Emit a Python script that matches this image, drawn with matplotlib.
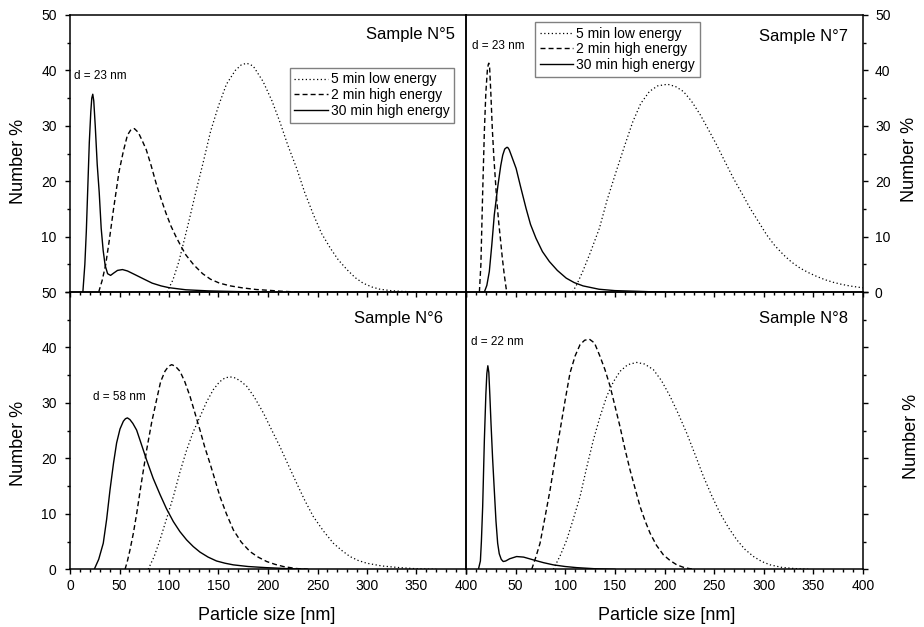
import matplotlib
matplotlib.use("Agg")
import matplotlib.pyplot as plt
from matplotlib.ticker import MultipleLocator, FuncFormatter

plt.rcParams['font.family'] = ['Liberation Sans', 'DejaVu Sans']

# ---- series names --------------------------------------------------------
series_labels = ["5 min low energy", "2 min high energy", "30 min high energy"]

# ---- Sample N°5 ----------------------------------------------------------
s5_low_x = [98, 104, 110, 120, 127, 134, 142, 150, 158, 167, 173, 178.5, 185, 195, 204, 212,
            220, 229, 237, 246, 254, 263, 271, 280, 288, 296, 305, 313, 324, 336, 350, 365]
s5_low_y = [0, 2.2, 5.5, 12.7, 18.0, 23.0, 29.0, 33.6, 37.5, 40.0, 41.0, 41.3, 40.8, 38.0, 34.5, 30.7,
            26.5, 22.3, 18.0, 13.9, 10.6, 7.9, 5.8, 4.0, 2.6, 1.6, 0.9, 0.5, 0.25, 0.1, 0.03, 0]
s5_high2_x = [29, 32.5, 36, 39.5, 44, 49.5, 54, 58, 61.5, 65, 69, 73, 77, 82, 87, 92, 97, 102,
              107, 112, 117, 125, 134, 142, 151, 162, 174, 188, 201, 215, 230]
s5_high2_y = [0, 2.1, 4.9, 9.1, 15, 21.7, 25.5, 28.3, 29.3, 29.5, 28.8, 27.3, 25.7, 22.8, 19.6, 16.8,
              14.2, 11.9, 10.0, 8.3, 6.7, 4.9, 3.3, 2.3, 1.6, 1.1, 0.75, 0.45, 0.3, 0.12, 0]
s5_high30_x = [13, 15, 16.5, 18, 19.5, 21, 22, 23, 24, 25.5, 27.5, 29.5, 31.5, 33.5, 35.5, 38, 41,
               44, 48, 53, 58, 66, 75, 83, 92, 100, 117, 140, 170, 200]
s5_high30_y = [0, 5, 11, 19, 27, 32.5, 35, 35.7, 34.5, 30, 23, 18, 11.5, 7.5, 4.8, 3.3, 3.0,
               3.4, 3.9, 4.05, 3.8, 3.1, 2.3, 1.6, 1.1, 0.78, 0.4, 0.2, 0.07, 0]

# ---- Sample N°7 ----------------------------------------------------------
s7_low_x = [107.5, 112, 117.6, 125, 134.4, 142, 151.2, 160, 168, 176, 184.8, 193, 203, 211, 219,
            227, 236, 244, 252.7, 261, 269.5, 278, 286.3, 295, 303, 311, 320, 328, 336.7, 345,
            353.5, 362, 370, 378, 387, 400]
s7_low_y = [0, 1.5, 3.7, 7.0, 11.5, 16.5, 21.7, 26.5, 30.7, 34.0, 36.2, 37.2, 37.5, 37.1, 36.2,
            34.5, 32.0, 29.4, 26.5, 23.5, 20.5, 17.8, 15.1, 12.6, 10.3, 8.4, 6.7, 5.4, 4.3, 3.5,
            2.8, 2.2, 1.75, 1.4, 1.08, 0.75]
s7_high2_x = [13.5, 15, 16.8, 18.5, 20, 21.5, 22.5, 23, 23.8, 25, 26.5, 28, 29.5, 31, 33, 35,
              36.5, 38.5, 40.5, 42]
s7_high2_y = [0, 5, 18, 29, 36, 40, 41.1, 41.3, 40.5, 36, 29.5, 24.5, 20.5, 16.5, 12.5, 9,
              6.3, 3.2, 0.6, 0]
s7_high30_x = [18.5, 21, 23.5, 26, 28.5, 32, 35, 37, 39, 41, 42, 43.5, 46, 50.5, 55, 60.5, 65,
               70.5, 77, 84, 92, 101, 109, 118, 134, 150, 168, 185, 200]
s7_high30_y = [0, 1.2, 3.7, 8.5, 13.9, 19.0, 22.8, 24.7, 25.8, 26.1, 26.1, 25.7, 24.5, 22.3, 19.0,
               15.1, 12.2, 9.7, 7.3, 5.5, 3.9, 2.5, 1.7, 1.1, 0.5, 0.25, 0.15, 0.05, 0]

# ---- Sample N°6 ----------------------------------------------------------
s6_low_x = [79, 85, 90.9, 97.5, 104.4, 111, 117.8, 124.5, 131.3, 138, 144.8, 151, 156.5, 161.6,
            167, 172.5, 178.5, 186, 195.3, 203.5, 212.1, 220.5, 229, 237.5, 245.8, 256, 266,
            274.5, 282.8, 291, 299.7, 315, 333, 350, 370]
s6_low_y = [0, 2.3, 5.3, 9.1, 13.1, 17.5, 21.5, 24.8, 27.5, 30.2, 32.4, 33.8, 34.5, 34.7,
            34.5, 33.9, 33.0, 31.1, 28.2, 25.2, 22.1, 18.8, 15.5, 12.3, 9.5, 6.9, 4.7,
            3.4, 2.3, 1.6, 1.1, 0.6, 0.3, 0.1, 0]
s6_high2_x = [55.6, 58, 60.6, 64, 67.4, 72, 77.4, 82.5, 87.5, 91.5, 95.9, 99.5, 102.7, 106.5,
              111.1, 116, 121.2, 126, 131.3, 136, 141.4, 146.5, 151.5, 158, 165, 173, 181.8,
              190, 198.7, 207, 215.5, 228, 240]
s6_high2_y = [0, 1.5, 3.5, 6.5, 10.1, 15.5, 21.5, 26.5, 30.6, 33.8, 35.7, 36.6, 36.9, 36.6,
              35.7, 33.8, 31.2, 28.3, 25.1, 22.1, 19.1, 16.1, 13.1, 10.0, 7.1, 4.9, 3.2,
              2.2, 1.4, 0.9, 0.5, 0.15, 0]
s6_high30_x = [24.5, 29, 33.6, 37, 40.4, 44, 47.1, 50.5, 53.9, 56, 58, 60.5, 63.5, 67.3, 72,
               77.4, 84, 90.9, 97.5, 104.4, 111, 117.8, 124.5, 131.3, 139.5, 148, 156.5, 165,
               180, 198, 220, 240]
s6_high30_y = [0, 1.8, 4.7, 9.0, 14.3, 19.2, 22.8, 25.3, 26.7, 27.15, 27.3, 27.0, 26.3, 25.1,
               22.6, 19.7, 16.4, 13.5, 10.9, 8.6, 6.8, 5.3, 4.1, 3.1, 2.2, 1.5, 1.1, 0.8,
               0.5, 0.3, 0.12, 0]

# ---- Sample N°8 ----------------------------------------------------------
s8_low_x = [88, 95, 101.5, 108, 114.9, 121.5, 128.3, 135, 141.8, 148.5, 155.2, 163, 172, 180,
            188.8, 197, 205.6, 214, 222.5, 231, 239.3, 247.5, 256, 264.5, 272.9, 281, 289.7,
            298, 306.5, 318, 330, 345]
s8_low_y = [0, 2.5, 5.3, 9.0, 13.1, 18.3, 23.3, 27.5, 31.2, 33.8, 35.7, 36.9, 37.3, 37.0,
            36.0, 34.0, 31.2, 28.0, 24.5, 20.6, 16.7, 13.3, 10.1, 7.5, 5.3, 3.6, 2.3,
            1.4, 0.8, 0.35, 0.15, 0]
s8_high2_x = [66.2, 70, 74.6, 79.5, 84.7, 89.5, 94.8, 100, 104.8, 110, 114.9, 119.5, 124.3,
              129.5, 135, 140, 145.2, 150, 155.2, 160, 165.3, 170.5, 175.4, 180.5, 185.5, 192,
              198.9, 205.5, 212.4, 220, 229]
s8_high2_y = [0, 2, 4.7, 9.3, 14.3, 19.6, 25.1, 30.6, 35.4, 38.5, 40.5, 41.3, 41.5,
              40.8, 38.4, 36.0, 33.0, 29.5, 25.7, 21.8, 17.9, 14.5, 11.3, 8.7, 6.5, 4.3,
              2.6, 1.6, 0.8, 0.3, 0]
s8_high30_x = [12.5, 14.5, 15.5, 16.8, 18.5, 20, 21, 22, 23, 24, 25.2, 26.8, 28.5, 30.2, 31.9,
               33.5, 35.5, 37.5, 40, 44, 51, 58, 67.8, 78, 88, 100, 111.6, 130, 150]
s8_high30_y = [0, 1.5, 5, 11.3, 23.3, 31.5, 35.3, 36.7, 35.5, 31.5, 26.3, 20, 14.3, 8.7, 4.7,
               2.8, 1.8, 1.4, 1.5, 1.9, 2.3, 2.2, 1.7, 1.2, 0.8, 0.5, 0.3, 0.1, 0]

# ---- line styles for the three treatments --------------------------------
styles = [
    dict(color="black", lw=0.9, linestyle=(0, (1.0, 2.0))),   # dotted
    dict(color="black", lw=1.0, linestyle=(0, (3.6, 2.2))),   # dashed
    dict(color="black", lw=1.0, linestyle="-"),               # solid
]

# ---- figure layout (four panels sharing edges) ---------------------------
W, H = 924, 627
fig = plt.figure(figsize=(W / 100, H / 100), dpi=100)
xl, xm, xr = 70 / W, 466 / W, 863 / W
yb, ym, yt = 1 - 569.3 / H, 1 - 292 / H, 1 - 15 / H

ax5 = fig.add_axes([xl, ym, xm - xl, yt - ym])
ax7 = fig.add_axes([xm, ym, xr - xm, yt - ym])
ax6 = fig.add_axes([xl, yb, xm - xl, ym - yb])
ax8 = fig.add_axes([xm, yb, xr - xm, ym - yb])

panels = [
    (ax5, "Sample N°5", [(s5_low_x, s5_low_y), (s5_high2_x, s5_high2_y), (s5_high30_x, s5_high30_y)]),
    (ax7, "Sample N°7", [(s7_low_x, s7_low_y), (s7_high2_x, s7_high2_y), (s7_high30_x, s7_high30_y)]),
    (ax6, "Sample N°6", [(s6_low_x, s6_low_y), (s6_high2_x, s6_high2_y), (s6_high30_x, s6_high30_y)]),
    (ax8, "Sample N°8", [(s8_low_x, s8_low_y), (s8_high2_x, s8_high2_y), (s8_high30_x, s8_high30_y)]),
]

for ax, title, curves in panels:
    ax.patch.set_visible(False)
    for (xs, ys), lab, st in zip(curves, series_labels, styles):
        ax.plot(xs, ys, label=lab, solid_joinstyle="round", **st)
    ax.set_xlim(0, 400)
    ax.set_ylim(0, 50)
    ax.xaxis.set_major_locator(MultipleLocator(50))
    ax.xaxis.set_minor_locator(MultipleLocator(10))
    ax.yaxis.set_major_locator(MultipleLocator(10))
    ax.yaxis.set_minor_locator(MultipleLocator(5))
    for sp in ax.spines.values():
        sp.set_linewidth(1.1)
    ax.tick_params(which="both", direction="out", width=1.0, labelsize=10)
    ax.tick_params(which="major", length=3.6)
    ax.tick_params(which="minor", length=2.2)
    ax.tick_params(axis="x", pad=3.5)

# left column: y axis on the left
for ax in (ax5, ax6):
    ax.tick_params(axis="y", pad=6)
    ax.set_ylabel("Number %", fontsize=13)
ax5.yaxis.set_major_formatter(FuncFormatter(lambda v, p: "" if v == 0 else f"{v:.0f}"))
ax5.yaxis.set_label_coords(-0.129, 0.47)
ax6.yaxis.set_label_coords(-0.129, 0.455)

# right column: y axis on the right
for ax in (ax7, ax8):
    ax.yaxis.tick_right()
    ax.yaxis.set_label_position("right")
    ax.tick_params(axis="y", pad=5)
    ax.set_ylabel("Number %", fontsize=13)
ax8.tick_params(axis="y", labelright=False)
ax7.yaxis.set_label_coords(1.118, 0.477)
ax8.yaxis.set_label_coords(1.123, 0.479)

for ax in (ax5, ax6, ax7, ax8):
    ax.yaxis.label.set_va("center")

# top row: no x tick labels
for ax in (ax5, ax7):
    ax.tick_params(axis="x", labelbottom=False)

# bottom row: x labels
ax8.xaxis.set_major_formatter(FuncFormatter(lambda v, p: "" if v == 0 else f"{v:.0f}"))
for ax, xc in ((ax6, 0.497), (ax8, 0.505)):
    ax.set_xlabel("Particle size [nm]", fontsize=13)
    ax.xaxis.set_label_coords(xc, -0.165)
    ax.xaxis.label.set_va("center")

# panel titles
title_pos = {ax5: (0.972, 0.931), ax7: (0.963, 0.922), ax6: (0.942, 0.906), ax8: (0.962, 0.903)}
for ax, title, _ in panels:
    tx, ty = title_pos[ax]
    ax.text(tx, ty, title, transform=ax.transAxes, ha="right", va="center", fontsize=12)

# peak diameter notes
ax5.text(0.010, 0.780, "d = 23 nm", transform=ax5.transAxes, ha="left", va="center", fontsize=8.5)
ax7.text(0.014, 0.889, "d = 23 nm", transform=ax7.transAxes, ha="left", va="center", fontsize=8.5)
ax6.text(0.057, 0.623, "d = 58 nm", transform=ax6.transAxes, ha="left", va="center", fontsize=8.5)
ax8.text(0.0126, 0.818, "d = 22 nm", transform=ax8.transAxes, ha="left", va="center", fontsize=8.5)

# legends
leg_kw = dict(fontsize=10, fancybox=False, framealpha=1, edgecolor="#808080",
              handlelength=2.4, handletextpad=0.2, borderpad=0.35, labelspacing=0.12,
              borderaxespad=0)
l5 = ax5.legend(loc="upper right", bbox_to_anchor=(0.970, 0.810), **leg_kw)
l7 = ax7.legend(loc="upper left", bbox_to_anchor=(0.174, 0.976), **leg_kw)
for lg in (l5, l7):
    lg.get_frame().set_linewidth(1.0)

fig.savefig("out.png", dpi=100)
